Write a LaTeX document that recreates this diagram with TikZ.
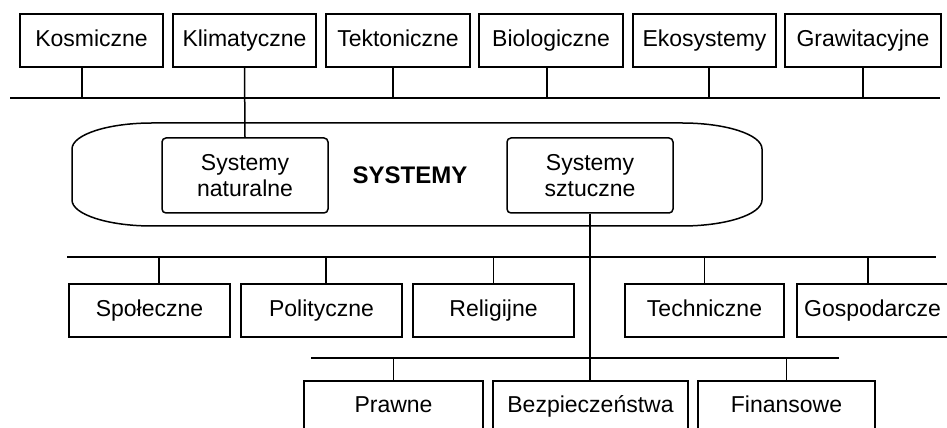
\documentclass[tikz,border=0pt]{standalone}
\usepackage{fontspec}
\setmainfont{Liberation Sans}
\begin{document}
\begin{tikzpicture}[x=1pt,y=1pt,
  line width=1.5pt,
  box/.style={draw, rectangle, inner sep=0pt, minimum height=53pt,
    text height=16.5pt, text depth=4.5pt,
    font=\fontsize{23}{25.5}\selectfont},
  inbox/.style={draw, rectangle, rounded corners=4pt, inner sep=0pt,
    minimum width=166pt, minimum height=75pt, align=center,
    font=\fontsize{23}{25.5}\selectfont},
  lowbox/.style={draw, rectangle, inner sep=0pt, minimum height=50pt,
    text height=16.5pt, text depth=4.5pt,
    font=\fontsize{23}{25.5}\selectfont},
  bus/.style={line width=1.5pt}]
\clip (0,0) rectangle (947,428);
\fill[white] (0,0) rectangle (947,428);
% top row
\node[box, minimum width=143pt] (kos) at (91.5,387.5) {Kosmiczne};
\node[box, minimum width=143pt] (kli) at (244.5,387.5) {Klimatyczne};
\node[box, minimum width=144pt] (tek) at (398,387.5) {Tektoniczne};
\node[box, minimum width=144pt] (bio) at (551,387.5) {Biologiczne};
\node[box, minimum width=143pt] (eko) at (704.5,387.5) {Ekosystemy};
\node[box, minimum width=156pt] (gra) at (863,387.5) {Grawitacyjne};
% top bus
\coordinate (b1L) at (10,330);
\coordinate (b1R) at (940,330);
\draw[bus] (b1L) -- (b1R);
\coordinate (kosT) at ([xshift=-9.5pt]kos.south);
\coordinate (tekT) at ([xshift=-5pt]tek.south);
\coordinate (bioT) at ([xshift=-4pt]bio.south);
\coordinate (ekoT) at ([xshift=4.5pt]eko.south);
\draw (kosT) -- (kosT |- b1L);
\draw (tekT) -- (tekT |- b1L);
\draw (bioT) -- (bioT |- b1L);
\draw (ekoT) -- (ekoT |- b1L);
\draw (gra.south) -- (gra.south |- b1L);
% big shape
\draw (152,305) -- (682,305)
  arc[start angle=90, end angle=0, x radius=80pt, y radius=26pt]
  -- (762,228)
  arc[start angle=0, end angle=-90, x radius=80pt, y radius=26pt]
  -- (152,202)
  arc[start angle=270, end angle=180, x radius=80pt, y radius=26pt]
  -- (72,279)
  arc[start angle=180, end angle=90, x radius=80pt, y radius=26pt]
  -- cycle;
\node[inbox] (nat) at (245,252.5) {Systemy\\naturalne};
\node[inbox] (szt) at (590,252.5) {Systemy\\sztuczne};
\node[font=\fontsize{24}{26}\selectfont\bfseries] (sys) at (410,253) {SYSTEMY};
\draw (kli.south) -- (nat.north);
% middle row
\node[box, minimum width=161pt] (spo) at (149.5,117.5) {Społeczne};
\node[box, minimum width=161pt] (pol) at (321.5,117.5) {Polityczne};
\node[box, minimum width=161pt] (rel) at (493.5,117.5) {Religijne};
\node[box, minimum width=159pt] (tec) at (704.5,117.5) {Techniczne};
\node[box, minimum width=151pt] (gos) at (872.5,117.5) {Gospodarcze};
\coordinate (b2L) at (67,171);
\coordinate (b2R) at (936,171);
\draw[bus] (b2L) -- (b2R);
\coordinate (spoT) at ([xshift=9.5pt]spo.north);
\coordinate (polT) at ([xshift=4.5pt]pol.north);
\coordinate (gosT) at ([xshift=-4.5pt]gos.north);
\draw (spoT) -- (spoT |- b2L);
\draw (polT) -- (polT |- b2L);
\draw (rel.north) -- (rel.north |- b2L);
\draw (tec.north) -- (tec.north |- b2L);
\draw (gosT) -- (gosT |- b2L);
% bottom row
\node[lowbox, minimum width=179pt] (pra) at (393.5,22) {Prawne};
\node[lowbox, minimum width=195pt] (bez) at (590.5,22) {Bezpieczeństwa};
\node[lowbox, minimum width=177pt] (fin) at (786.5,22) {Finansowe};
\coordinate (b3L) at (311,70);
\coordinate (b3R) at (839,70);
\draw[bus] (b3L) -- (b3R);
\draw (pra.north) -- (pra.north |- b3L);
\draw (fin.north) -- (fin.north |- b3L);
\draw (szt.south) -- (szt.south |- bez.north);
\end{tikzpicture}
\end{document}
